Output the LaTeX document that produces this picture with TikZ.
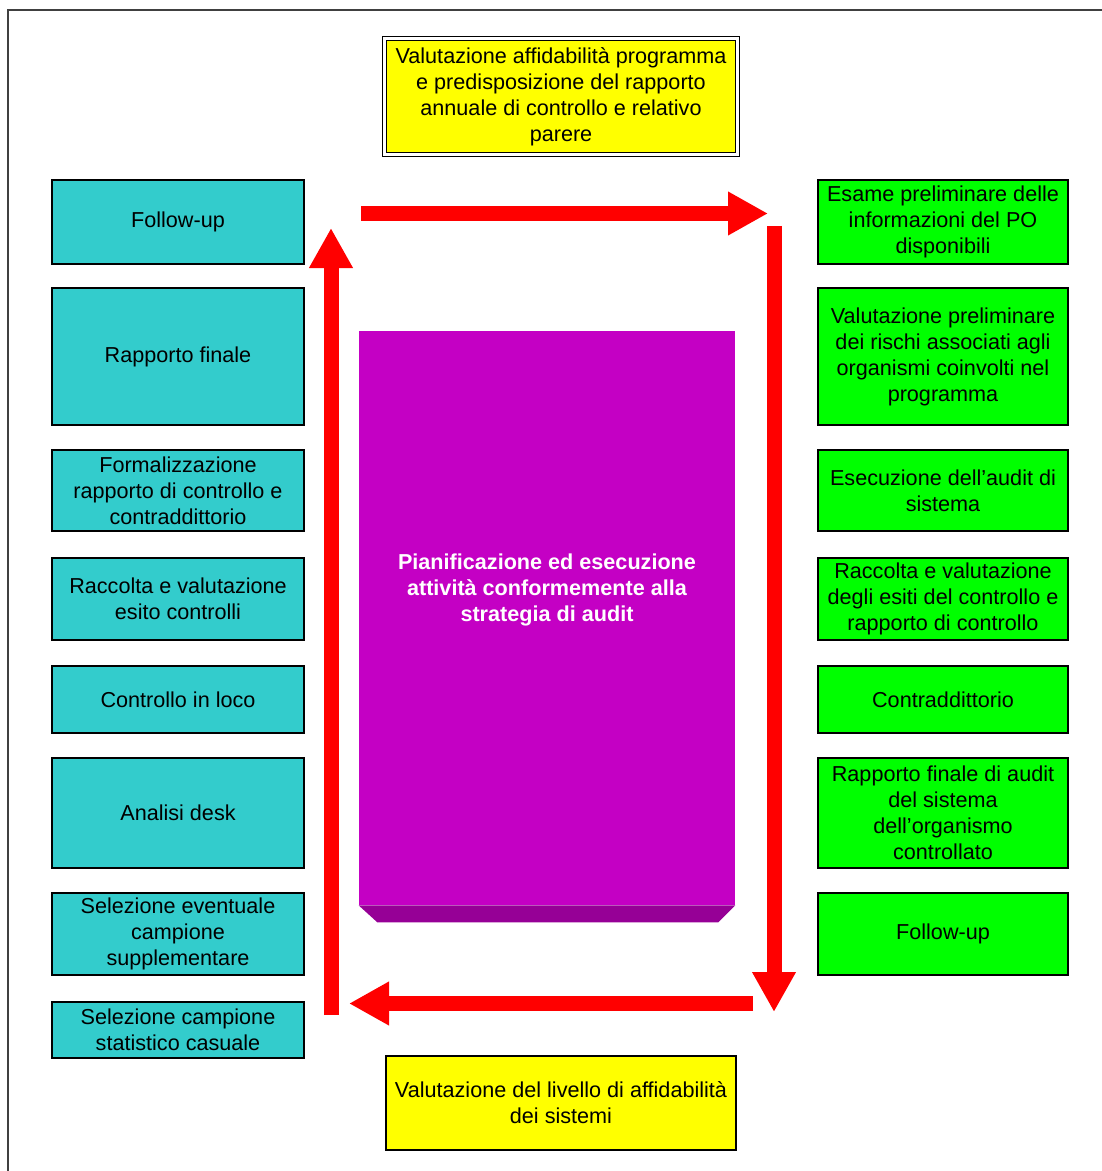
\documentclass[tikz,border=0pt]{standalone}
\usepackage{fontspec}
\setmainfont{Liberation Sans}
\usepackage{xcolor}
\usetikzlibrary{arrows.meta,positioning}
\definecolor{stepcyan}{RGB}{51,204,204}
\definecolor{stepgreen}{RGB}{0,255,0}
\definecolor{stepyellow}{RGB}{255,255,0}
\definecolor{planmag}{RGB}{196,0,196}
\definecolor{planshade}{RGB}{150,0,150}
\definecolor{flowred}{RGB}{255,0,0}
\definecolor{framegray}{RGB}{64,64,64}

\begin{document}
\begin{tikzpicture}[
  x=0.2mm, y=-0.2mm,
  font=\fontsize{12.3}{14.8}\selectfont,
  stepbox/.style={draw=black, line width=1pt, align=center, inner sep=1pt},
  lbox/.style={stepbox, fill=stepcyan, minimum width=50.4mm},
  rbox/.style={stepbox, fill=stepgreen, minimum width=50mm},
  ybox/.style={stepbox, fill=stepyellow, minimum width=70.5mm},
  arr/.style={-{Triangle[width=8.2mm, length=8mm]}, flowred, line width=3mm},
]
\useasboundingbox (0,0) rectangle (1101,1171);
\draw[framegray, line width=1.6pt] (1120,10) -- (8,10) -- (8,1190);

% top and bottom
\node[ybox, draw=black, line width=0.6pt, double=white, double distance=1.2pt, minimum width=70.6mm, minimum height=23.2mm] (yearly) at (561,96.5)
  {Valutazione affidabilità programma\\ e predisposizione del rapporto\\ annuale di controllo e relativo\\ parere};
\node[ybox, minimum width=70mm, minimum height=18.8mm] (reliab) at (561,1103)
  {Valutazione del livello di affidabilità\\ dei sistemi};

% centre block
\node[fill=planmag, minimum width=75.2mm, minimum height=114.8mm, inner sep=0pt] (plan) at (547,618) {};
\fill[planshade] (plan.south west) -- (plan.south east) -- ++(-17,17) -- ++(-341,0) -- cycle;
\node[text=white, font=\fontsize{12.3}{14.8}\selectfont\bfseries, align=center] (plantext) at (547,590)
  {Pianificazione ed esecuzione\\ attività conformemente alla\\ strategia di audit};

% left column
\node[lbox, minimum height=16.8mm] (lfollow) at (178,222) {Follow-up};
\node[lbox, minimum height=27.4mm] (lfinal) at (178,356.5) {Rapporto finale};
\node[lbox, minimum height=16.2mm] (lformal) at (178,490.5) {Formalizzazione\\ rapporto di controllo e\\ contraddittorio};
\node[lbox, minimum height=16.4mm] (lcollect) at (178,599) {Raccolta e valutazione\\ esito controlli};
\node[lbox, minimum height=13.4mm] (lonsite) at (178,699.5) {Controllo in loco};
\node[lbox, minimum height=22mm] (ldesk) at (178,813) {Analisi desk};
\node[lbox, minimum height=16.4mm] (lextra) at (178,934) {Selezione eventuale\\ campione\\ supplementare};
\node[lbox, minimum height=11.2mm] (lsample) at (178,1030) {Selezione campione\\ statistico casuale};

% right column
\node[rbox, minimum height=16.8mm] (rexam) at (943,222) {Esame preliminare delle\\ informazioni del PO\\ disponibili};
\node[rbox, minimum height=27.4mm] (rrisk) at (943,356.5) {Valutazione preliminare\\ dei rischi associati agli\\ organismi coinvolti nel\\ programma};
\node[rbox, minimum height=16.2mm] (rrun) at (943,490.5) {Esecuzione dell’audit di\\ sistema};
\node[rbox, minimum height=16.4mm] (rcollect) at (943,599) {Raccolta e valutazione\\ degli esiti del controllo e\\ rapporto di controllo};
\node[rbox, minimum height=13.4mm] (rcontra) at (943,699.5) {Contraddittorio};
\node[rbox, minimum height=22mm] (rfinal) at (943,813) {Rapporto finale di audit\\ del sistema\\ dell’organismo\\ controllato};
\node[rbox, minimum height=16.4mm] (rfollow) at (943,934) {Follow-up};

% cycle arrows
\coordinate (topA) at (361,213.5);
\coordinate (topB) at (768,213.5);
\coordinate (rightA) at (774,226);
\coordinate (rightB) at (774,1012);
\coordinate (botA) at (753,1003.5);
\coordinate (botB) at (349,1003.5);
\coordinate (leftA) at (331,1015);
\coordinate (leftB) at (331,228);
\draw[arr] (topA) -- (topB);
\draw[arr] (rightA) -- (rightB);
\draw[arr] (botA) -- (botB);
\draw[arr] (leftA) -- (leftB);
\end{tikzpicture}
\end{document}
